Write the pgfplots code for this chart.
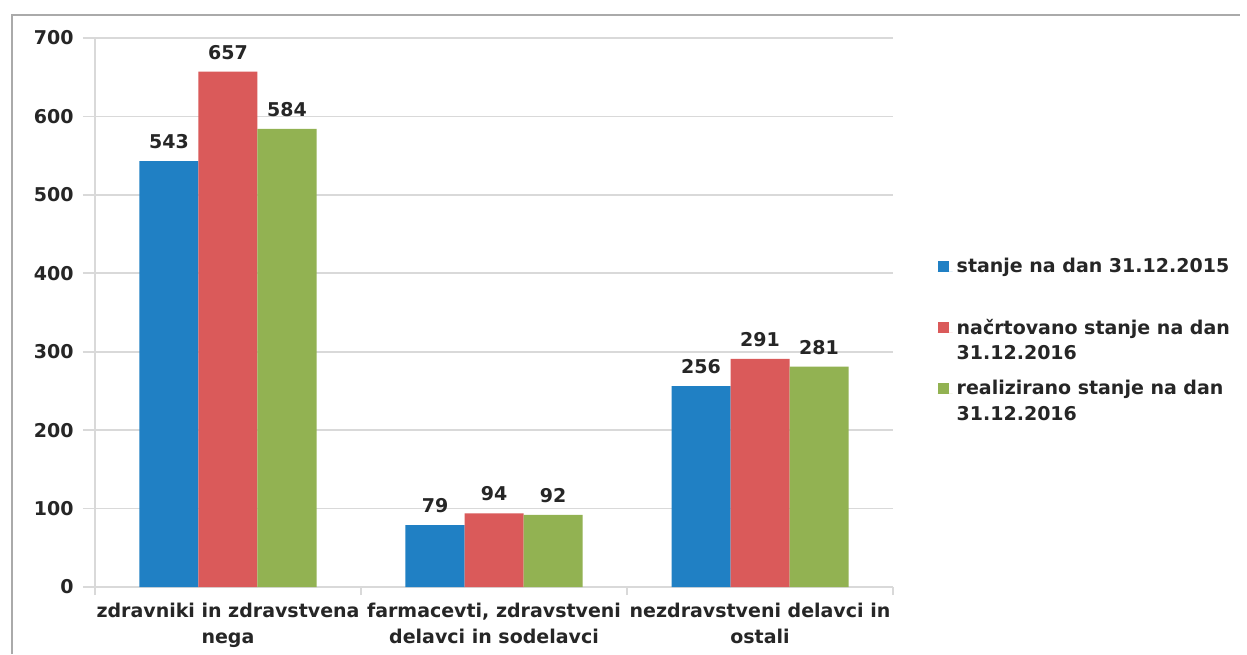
\documentclass[border=0pt]{standalone}
\usepackage{fontspec}
\setmainfont{DejaVu Sans}
\usepackage{pgfplots}
\pgfplotsset{compat=1.18}

\definecolor{barblue}{RGB}{32,128,196}
\definecolor{barred}{RGB}{218,90,90}
\definecolor{bargreen}{RGB}{146,178,82}
\definecolor{gridgray}{RGB}{217,217,217}
\definecolor{framegray}{RGB}{170,170,170}
\definecolor{txt}{RGB}{38,38,38}

\newcommand{\lblfont}{\fontsize{9.5}{12.75}\selectfont\bfseries}

\begin{document}
\begin{tikzpicture}
\useasboundingbox[fill=white] (0,0) rectangle (623.5pt,327pt);
\draw[framegray, line width=0.8pt] (6pt,0) -- (6pt,319.5pt) -- (620pt,319.5pt);
\begin{axis}[
  at={(47.5pt,33.5pt)}, anchor=south west,
  scale only axis, width=399pt, height=274.5pt,
  ybar=0pt, bar width=29.5pt,
  xmin=-0.5, xmax=2.5, ymin=0, ymax=700,
  axis x line*=bottom, axis y line*=left,
  axis line style={gridgray, line width=0.8pt},
  xtick={0,1,2},
  xticklabels={{zdravniki in zdravstvena\\nega},
               {farmacevti, zdravstveni\\delavci in sodelavci},
               {nezdravstveni delavci in\\ostali}},
  minor xtick={-0.5,0.5,1.5,2.5},
  major x tick style={draw=none},
  minor x tick style={gridgray, line width=0.8pt},
  minor tick length=4pt,
  ytick={0,100,...,700},
  ytick style={gridgray, line width=0.8pt},
  major tick length=6pt,
  tick align=outside,
  ymajorgrids,
  grid style={gridgray, line width=0.8pt},
  /pgf/number format/assume math mode=true,
  tick label style={font=\lblfont, text=txt},
  yticklabel style={xshift=-1.2pt},
  xticklabel style={align=center, yshift=1.5pt},
  nodes near coords,
  nodes near coords style={font=\lblfont, text=txt, yshift=2.5pt},
  legend cell align=left,
  legend style={at={(rel axis cs:1.048,0.614)}, anchor=north west,
    draw=none, fill=none, font=\lblfont, text=txt,
    row sep=4.8pt, cells={align=left}},
  legend image code/.code={%
    \fill[#1,draw=none] (0pt,4pt) rectangle (5.5pt,9.5pt);
    \path (0pt,4pt) -- (7.5pt,4pt);},
]
\addplot[fill=barblue, draw=none] coordinates {(0,543) (1,79) (2,256)};
\addplot[fill=barred, draw=none] coordinates {(0,657) (1,94) (2,291)};
\addplot[fill=bargreen, draw=none] coordinates {(0,584) (1,92) (2,281)};
\legend{stanje na dan 31.12.2015\\\mbox{},
        načrtovano stanje na dan\\31.12.2016,
        realizirano stanje na dan\\31.12.2016}
\end{axis}
\end{tikzpicture}
\end{document}
